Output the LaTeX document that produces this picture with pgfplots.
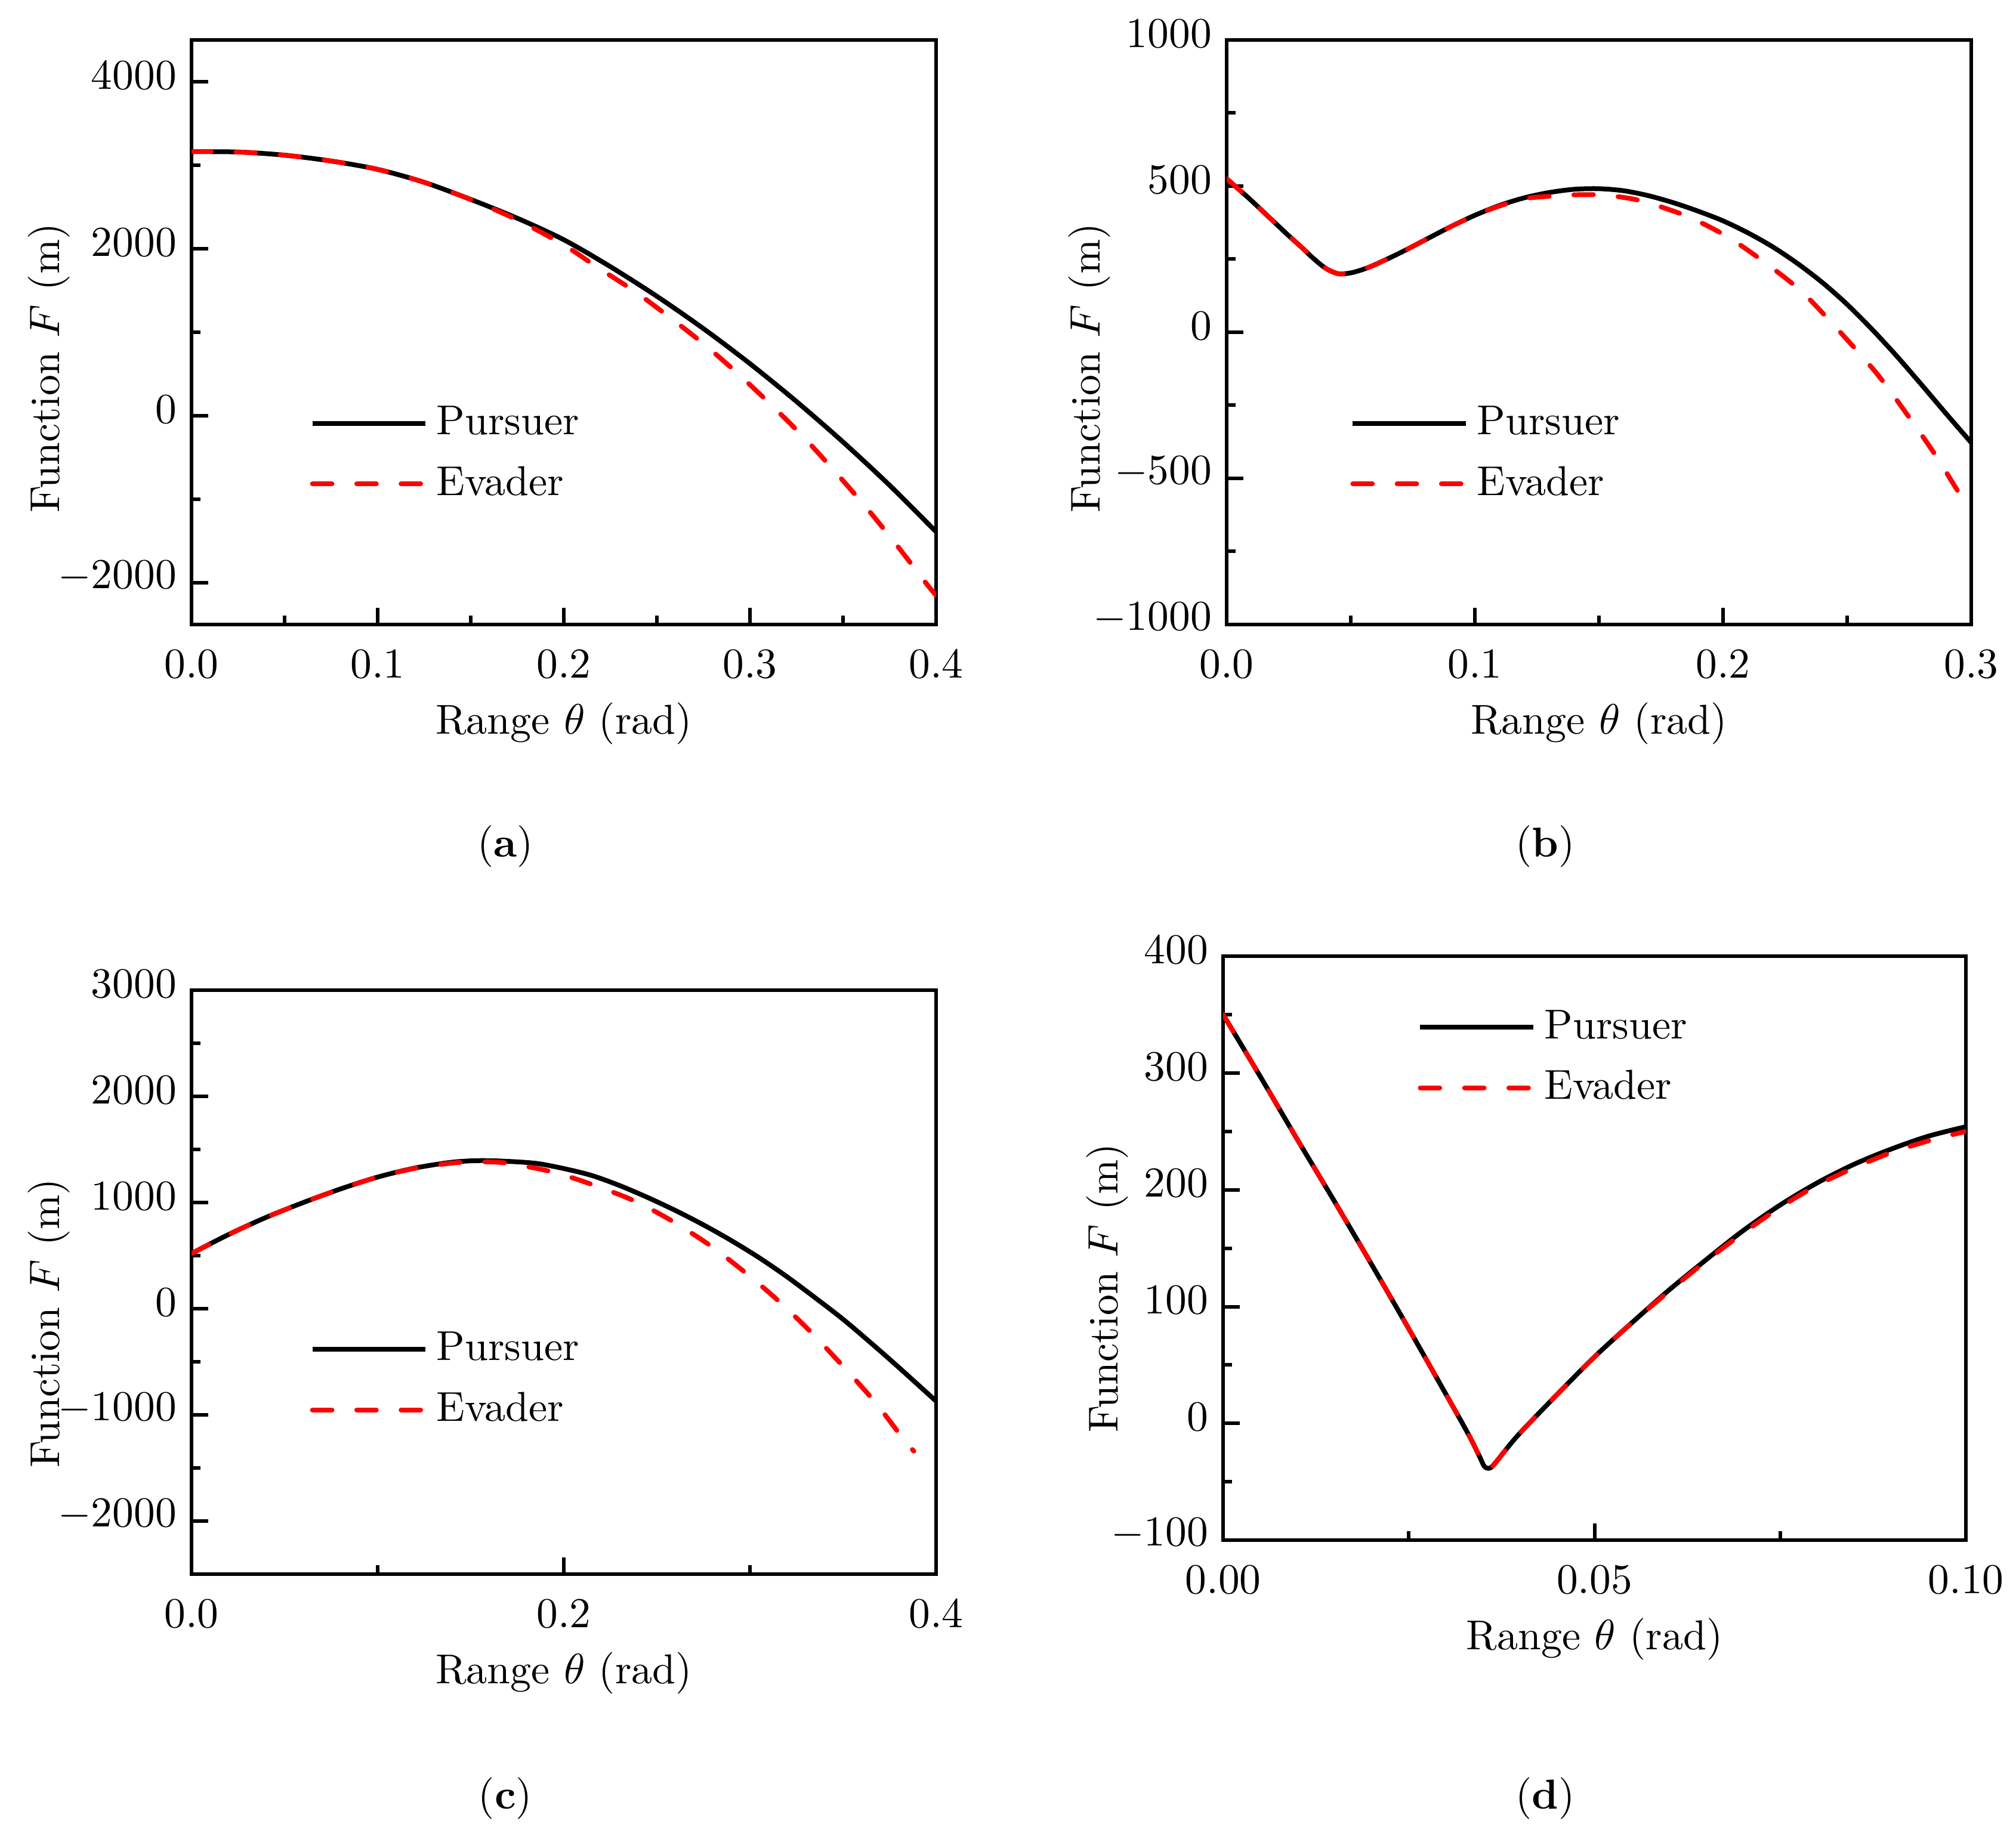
\documentclass[border=0pt]{standalone}
\usepackage{pgfplots}
\pgfplotsset{compat=1.18}

\newcommand{\fsz}{\fontsize{9.8}{11.8}\selectfont}

\pgfplotsset{
  panel/.style={
    scale only axis,
    width=174.72pt, height=137.2pt,
    axis line style={line width=0.84pt},
    tick style={black, line width=0.84pt},
    major tick length=3.9pt, minor tick length=2.1pt,
    tick align=inside, tick pos=left,
    scaled ticks=false,
    minor x tick num=1, minor y tick num=1,
    yticklabel style={/pgf/number format/1000 sep={}, yshift=1.5pt},
    xticklabel style={/pgf/number format/fixed, /pgf/number format/fixed zerofill,
      /pgf/number format/precision=1, yshift=-2.5pt},
    tick label style={font=\fsz},
    label style={font=\fsz},
    xlabel={Range $\theta$ (rad)},
    ylabel={Function $F$ (m)},
    xlabel style={at={(axis description cs:0.5,-0.169)}, anchor=center},
    legend style={draw=none, fill=none, font=\fsz, anchor=west, inner sep=0pt,
      row sep=2.95pt, nodes={inner sep=1.5pt}},
    legend cell align=left,
    legend image code/.code={\draw[##1] (0pt,0pt) -- (26.5pt,0pt); \path (27.1pt,0pt);},
  },
  pursuer/.style={black, line width=1.12pt, smooth},
  evader/.style={red, line width=1.12pt, line cap=round, dash pattern=on 4.6pt off 5.8pt, smooth},
}

\begin{document}
\begin{tikzpicture}
\useasboundingbox (0,0) rectangle (473.06pt,430.22pt);

% (a)
\begin{axis}[panel, at={(44.94pt,420.84pt)}, anchor=north west,
  xmin=0, xmax=0.4, xtick={0,0.1,0.2,0.3,0.4},
  ymin=-2500, ymax=4500, ytick={-2000,0,2000,4000},
  ylabel style={at={(axis description cs:-0.1915,0.439)}, anchor=center},
  legend style={at={(axis description cs:0.158,0.292)}}]
\addplot[pursuer] coordinates {
  (0,3162) (0.025,3158) (0.05,3120) (0.075,3050) (0.1,2950) (0.125,2795)
  (0.15,2590) (0.175,2365) (0.2,2107) (0.225,1785) (0.25,1430) (0.275,1043)
  (0.3,623) (0.325,170) (0.35,-315) (0.375,-833) (0.4,-1390)};
\addlegendentry{Pursuer}
\addplot[evader] coordinates {
  (0,3162) (0.025,3158) (0.05,3120) (0.075,3050) (0.1,2950) (0.125,2795)
  (0.15,2588) (0.175,2345) (0.2,2045) (0.2178,1781) (0.238,1490) (0.2567,1182)
  (0.275,862) (0.2927,520) (0.3116,126) (0.3298,-280) (0.3494,-763)
  (0.3652,-1173) (0.3802,-1588) (0.395,-2017) (0.4,-2150)};
\addlegendentry{Evader}
\end{axis}

% (b)
\begin{axis}[panel, at={(287.84pt,420.84pt)}, anchor=north west,
  xmin=0, xmax=0.3, xtick={0,0.1,0.2,0.3},
  ymin=-1000, ymax=1000, ytick={-1000,-500,0,500,1000},
  ylabel style={at={(axis description cs:-0.184,0.439)}, anchor=center},
  legend style={at={(axis description cs:0.165,0.292)}}]
\addplot[pursuer] coordinates {
  (0,525) (0.005,488) (0.01,450) (0.015,410) (0.02,370) (0.025,330) (0.03,292)
  (0.035,252) (0.04,218) (0.045,200) (0.05,203) (0.055,215) (0.06,232)
  (0.07,272) (0.08,316) (0.09,360) (0.1,400) (0.11,434) (0.12,460) (0.13,478)
  (0.14,489) (0.15,491) (0.16,484) (0.17,467) (0.18,443) (0.19,414) (0.2,381)
  (0.21,340) (0.22,292) (0.23,235) (0.24,170) (0.25,95) (0.26,10) (0.27,-82)
  (0.28,-180) (0.29,-280) (0.3,-378)};
\addlegendentry{Pursuer}
\addplot[evader] coordinates {
  (0,525) (0.005,488) (0.01,450) (0.015,410) (0.02,370) (0.025,330) (0.03,292)
  (0.035,252) (0.04,218) (0.045,200) (0.05,203) (0.055,215) (0.06,232)
  (0.07,272) (0.08,316) (0.09,360) (0.1,400) (0.11,432) (0.12,457) (0.13,465)
  (0.14,470) (0.15,470) (0.16,461) (0.1689,445) (0.1857,396) (0.2017,327)
  (0.2166,240) (0.2314,141) (0.2455,16) (0.2618,-140) (0.2737,-276)
  (0.2852,-416) (0.2962,-565) (0.3,-605)};
\addlegendentry{Evader}
\end{axis}

% (c)
\begin{axis}[panel, at={(44.94pt,197.82pt)}, anchor=north west, height=137.1pt,
  xmin=0, xmax=0.4, xtick={0,0.2,0.4},
  ymin=-2500, ymax=3000, ytick={-2000,-1000,0,1000,2000,3000},
  ylabel style={at={(axis description cs:-0.1915,0.43)}, anchor=center},
  legend style={at={(axis description cs:0.158,0.333)}}]
\addplot[pursuer] coordinates {
  (0,520) (0.02,700) (0.04,860) (0.06,1000) (0.08,1128) (0.1,1240) (0.12,1325)
  (0.14,1380) (0.155,1395) (0.17,1388) (0.1856,1368) (0.2,1320) (0.215,1255)
  (0.23,1160) (0.245,1048) (0.26,925) (0.275,790) (0.29,642) (0.305,480)
  (0.32,300) (0.335,104) (0.35,-99) (0.365,-322) (0.38,-553) (0.4,-870)};
\addlegendentry{Pursuer}
\addplot[evader] coordinates {
  (0,520) (0.02,700) (0.04,860) (0.06,1000) (0.08,1128) (0.1,1240) (0.12,1322)
  (0.14,1372) (0.155,1384) (0.17,1370) (0.1942,1287) (0.216,1165) (0.2381,1014)
  (0.2578,830) (0.2776,608) (0.2957,366) (0.3136,101) (0.3318,-203)
  (0.3512,-564) (0.3675,-886) (0.3826,-1230) (0.388,-1340)};
\addlegendentry{Evader}
\end{axis}

% (d)
\begin{axis}[panel, at={(287.0pt,205.8pt)}, anchor=north west, width=174.3pt, height=137.1pt,
  xmin=0, xmax=0.1, xtick={0,0.05,0.1},
  xticklabel style={/pgf/number format/precision=2},
  ymin=-100, ymax=400, ytick={-100,0,100,200,300,400},
  ylabel style={at={(axis description cs:-0.156,0.432)}, anchor=center},
  legend style={at={(axis description cs:0.261,0.826)}}]
\addplot[pursuer] coordinates {
  (0,350) (0.005,297) (0.01,243) (0.015,190) (0.02,136) (0.025,81) (0.03,25)
  (0.033,-9) (0.0345,-28) (0.0352,-37) (0.036,-38) (0.037,-31) (0.038,-23)
  (0.04,-8) (0.045,25) (0.05,57) (0.055,86) (0.06,114) (0.065,140) (0.07,165)
  (0.075,187) (0.08,206) (0.085,222) (0.09,235) (0.095,246) (0.1,254)};
\addlegendentry{Pursuer}
\addplot[evader] coordinates {
  (0,350) (0.005,297) (0.01,243) (0.015,190) (0.02,136) (0.025,81) (0.03,25)
  (0.033,-9) (0.0345,-28) (0.0352,-37) (0.036,-38) (0.037,-31) (0.038,-23)
  (0.04,-8) (0.045,25) (0.05,57) (0.055,86) (0.06,113) (0.065,139) (0.07,163)
  (0.075,185) (0.08,204) (0.085,219) (0.09,232) (0.095,242) (0.1,250)};
\addlegendentry{Evader}
\end{axis}

\node[font=\fsz] at (118.58pt,231.56pt) {(\textbf{a})};
\node[font=\fsz] at (362.6pt,231.56pt) {(\textbf{b})};
\node[font=\fsz] at (118.58pt,8.12pt) {(\textbf{c})};
\node[font=\fsz] at (362.6pt,8.12pt) {(\textbf{d})};
\end{tikzpicture}
\end{document}
